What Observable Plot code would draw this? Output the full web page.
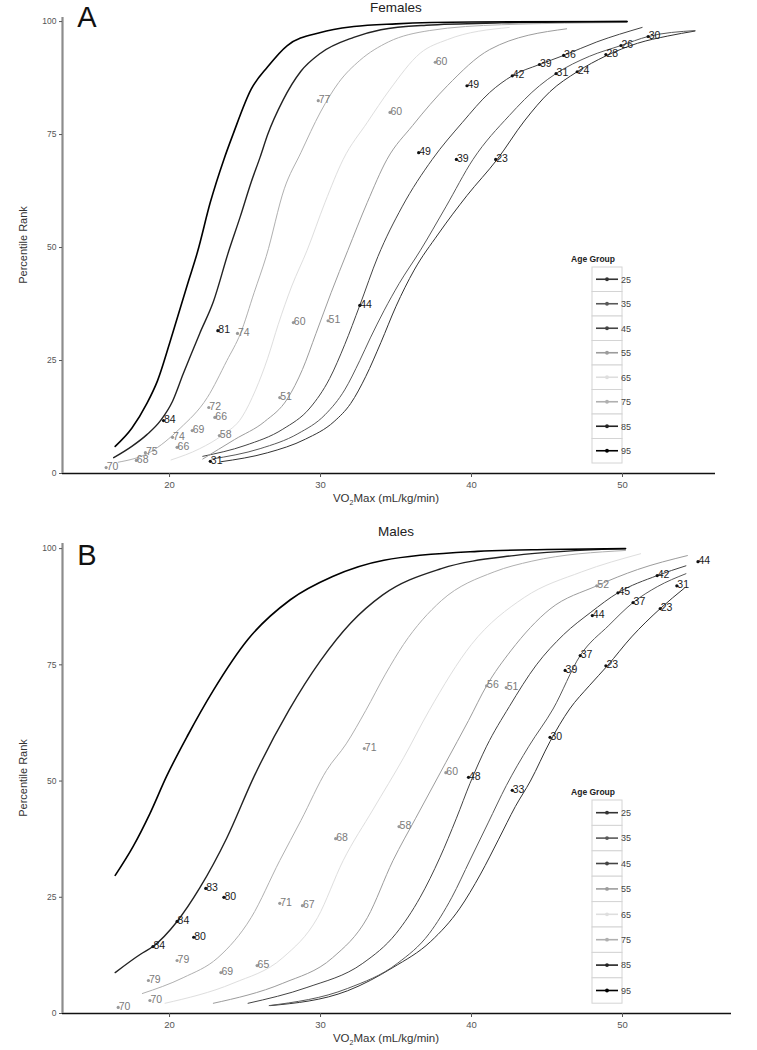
<!DOCTYPE html>
<html><head><meta charset="utf-8">
<script src="https://cdn.jsdelivr.net/npm/d3@7"></script>
<script src="https://cdn.jsdelivr.net/npm/@observablehq/plot@0.6"></script>
<style>
body{margin:0;background:#fff;font-family:"Liberation Sans",Arial,sans-serif;}
#wrap{width:757px;}
</style></head><body><div id="wrap"><div id="A"></div><div id="B"></div></div>
<script>
const ageGroups = [25,35,45,55,65,75,85,95];
const groupColors = ["#333333","#595959","#444444","#9c9c9c","#dedede","#b0b0b0","#222222","#000000"];
const groupWidths = [1,1,1,1,1,1,1.4,1.6];
const xTicks = [20,30,40,50];
const yTicks = [0,25,50,75,100];

// Females: [VO2max, percentile rank]
const f25 = [[23.4,2.6],[26.5,4.6],[29,7.6],[30.9,11.5],[32,15.5],[33,21.5],[34,29],[35,37],[36.2,45],[37.8,53],[39.7,61.5],[41.7,69.5],[43.5,78],[45.2,84.5],[47,88.9],[48.9,92.4],[51,95.2],[53,96.8],[54.8,97.9]];
const f35 = [[22.8,3.2],[26,5.5],[28.5,8.8],[30.3,13],[31.6,18.5],[32.6,25],[33.3,30],[34.2,36],[35.2,42],[36.6,49.3],[38.3,59],[40.1,69.5],[42.5,79.2],[44.5,85.8],[45.6,88.5],[47.8,92.3],[49.9,94.7],[51.7,96.7],[54.8,98]];
const f45 = [[22.2,3.8],[25,6.2],[27.5,9.8],[29.3,14.5],[30.6,21],[31.6,28.5],[32.6,37.2],[33.8,48],[35.4,59],[37.4,69.5],[39.4,77.7],[41.2,84.3],[42.7,88],[44.5,90.5],[46.1,92.5],[48.3,95.5],[51.3,98.7]];
const f55 = [[22.2,3.2],[24.3,7.5],[26.3,11.5],[27.8,16.5],[28.8,23],[29.7,31],[30.7,40],[31.8,49.3],[33.1,60],[34.4,69.5],[36.1,77],[38.4,85.8],[41.2,93.8],[46.3,98.4]];
const f65 = [[20.1,3],[22,5.5],[23.5,8.5],[24.8,12.5],[25.7,18.5],[26.5,25.5],[27.2,33],[28.1,41.5],[29.1,49.3],[30.3,60],[31.5,69.5],[33.1,77.7],[34.6,85],[36.6,93],[38.4,96],[42.5,98.7]];
const f75 = [[16.6,2.5],[18.7,4.7],[20.7,10],[22.5,16.8],[23.8,25],[24.7,31],[25.6,40],[26.4,48],[27.6,63],[28.7,71],[30,80],[31.2,86.5],[32.6,91.4],[34.5,95.5],[37.2,98],[42,99.3],[50.3,99.8]];
const f85 = [[16.3,3.5],[17.5,6],[18.5,8.6],[19.4,11.7],[20.2,16],[20.9,22],[22,31],[22.9,38],[23.9,49],[24.7,57],[25.4,64.4],[26,70],[26.5,75],[27.5,82.5],[28.7,89],[30,93],[32.2,96.5],[34,98.2],[37,99.2],[42,99.7],[50.3,100]];
const f95 = [[16.4,6],[17.5,10],[18.5,15.5],[19.2,20.5],[20.2,31],[21.2,42],[21.85,49],[22.7,60],[23.6,69.5],[24.2,75],[25.4,85],[26.5,90],[27.8,94.7],[30,97.6],[32.2,98.9],[35,99.5],[40,99.9],[50.3,100]];

// Males
const m25 = [[26.7,1.7],[31.8,4.9],[34.8,9.9],[37.3,15.5],[39.2,22.5],[40.6,30],[41.8,37.5],[42.9,44.5],[43.9,50],[45.2,58.5],[46.5,65.5],[47.8,70.5],[49,74.8],[50.6,81],[52.5,87.1],[54.1,91.5]];
const m35 = [[26.6,1.7],[31.8,5.4],[35.1,10.8],[37.2,17.2],[38.7,25],[39.9,33],[41.1,41],[42.3,49],[43.8,57.5],[45.4,65.5],[47.2,77],[49.1,83.5],[50.7,88.4],[52.3,91.8],[54.2,94.6]];
const m45 = [[25.2,2.2],[29.1,5.6],[32.8,10.8],[35,17.2],[36.6,25],[37.9,33.5],[39,42],[39.9,49.5],[41,57.5],[42.5,66],[44.3,75],[46.1,81.5],[47.9,86.3],[49.7,90.5],[52.3,94.2],[54.2,96.3]];
const m55 = [[22.9,2.2],[27.5,6.5],[30.8,12],[33.1,20.6],[34.8,32.9],[36.3,42],[38.3,54],[39.8,63],[41,70.5],[42.6,78],[45.2,87],[48.3,92],[51,95.5],[54.3,98.5]];
const m65 = [[19.7,2.2],[24.2,6.5],[27.5,12],[29.8,20.6],[31.5,32.9],[33.5,44],[35.5,55],[37.2,65.2],[40,79.4],[43.5,89.5],[47.3,95],[51.2,98.9]];
const m75 = [[18.2,4.3],[20.9,7.7],[23.2,12],[25.4,20.6],[27.3,32.9],[28.7,41.5],[30.4,52.3],[31.7,58],[33,65.2],[34.3,73],[35.5,79.4],[38,88.8],[41.5,95],[44,97.3],[50.2,99.6]];
const m85 = [[16.4,8.8],[18.1,12.8],[18.9,14.4],[20.5,19.8],[22,27],[23.8,37.8],[25.6,51],[27.9,65.2],[30,75.9],[32,84],[34.1,90],[38,95.7],[42.8,98.5],[50.2,100]];
const m95 = [[16.4,29.7],[17.6,36],[18.7,43],[19.8,51],[21.2,59.8],[22.9,69.5],[25.2,80.5],[28,89],[30.8,94],[34.2,97.5],[40.4,99.4],[45,99.8],[50.2,100]];

// Individual subjects: [VO2max, percentile, age]
const femaleSubjects = [[29.85,82.5,77],[37.6,91,60],[34.6,79.9,60],[39.7,85.8,49],[42.7,88,42],[44.5,90.5,39],[46.1,92.5,36],[45.6,88.5,31],[47,88.9,24],[48.9,92.7,28],[49.9,94.7,26],[51.7,96.7,30],[36.5,71,49],[39,69.5,39],[41.6,69.5,23],[23.2,31.6,81],[24.5,31,74],[28.2,33.4,60],[30.5,33.8,51],[32.6,37.2,44],[22.6,14.6,72],[23,12.4,66],[19.6,11.7,84],[21.5,9.5,69],[20.2,8,74],[23.3,8.4,58],[20.5,5.8,66],[18.4,4.6,75],[17.8,2.9,68],[15.8,1.3,70],[22.7,2.7,31],[27.3,16.8,51]];
const maleSubjects = [[22.4,26.9,83],[23.6,25,80],[20.5,19.8,84],[21.6,16.4,80],[18.9,14.4,84],[20.5,11.4,79],[18.6,7.1,79],[18.7,2.8,70],[16.6,1.3,70],[23.4,8.8,69],[25.8,10.3,65],[27.3,23.7,71],[28.8,23.2,67],[31,37.6,68],[32.9,57,71],[38.3,51.8,60],[35.2,40.2,58],[39.8,50.8,48],[42.7,48,33],[45.2,59.4,30],[41,70.5,56],[42.3,70.1,51],[46.2,73.8,39],[47.2,77,37],[48.9,74.8,23],[48,85.6,44],[48.3,92,52],[49.7,90.5,45],[50.7,88.4,37],[52.5,87.1,23],[52.3,94.2,42],[53.6,92,31],[55,97.2,44]];

const groupOf = age => Math.floor(age / 10) * 10 + 5;

function panel(el, curves, subjects, opt) {
  const marks = [];
  curves.forEach((pts, i) => {
    const data = pts.map(([x, y]) => ({x, y}));
    marks.push(Plot.line(data, {x: "x", y: "y", stroke: groupColors[i], strokeWidth: groupWidths[i], curve: "monotone-x"}));
  });
  const subj = subjects.map(([x, y, age]) => ({x, y, age, g: groupOf(age)}));
  ageGroups.forEach((g, i) => {
    const rows = subj.filter(d => d.g === g);
    if (!rows.length) return;
    const light = g >= 55 && g <= 75;
    marks.push(Plot.dot(rows, {x: "x", y: "y", r: 1.6, fill: light ? "#999" : "#111", stroke: "none"}));
    marks.push(Plot.text(rows, {x: "x", y: "y", text: d => String(d.age), fill: light ? "#7a7a7a" : "#1a1a1a", textAnchor: "start", dx: 0.5, dy: -1, fontSize: 10.5}));
  });
  marks.push(Plot.ruleY([0], {stroke: "#111", strokeWidth: 1.6}));
  marks.push(Plot.ruleX([opt.xDomain[0]], {y1: 0, y2: opt.yDomain[1], stroke: "#8c8c8c", strokeWidth: 2.2}));
  marks.push(Plot.axisX({ticks: xTicks, tickSize: 4, tickPadding: 4, fontSize: 9.5, color: "#555", label: null}));
  marks.push(Plot.axisY({ticks: yTicks, tickSize: 3, tickPadding: 3, fontSize: 8.5, color: "#555", label: null}));
  const svg = Plot.plot({
    width: 757, height: opt.height,
    marginLeft: 62, marginRight: opt.mr, marginTop: opt.mt, marginBottom: opt.mb,
    x: {domain: opt.xDomain}, y: {domain: opt.yDomain},
    style: {fontFamily: "'Liberation Sans', Arial, sans-serif", background: "#fff", overflow: "visible"},
    marks
  });
  const s = d3.select(svg);
  const h = opt.height;
  s.append("text").attr("x", 87).attr("y", opt.letterY).attr("font-size", 29).attr("fill", "#111").text(opt.letter);
  s.append("text").attr("x", 396).attr("y", opt.titleY).attr("text-anchor", "middle").attr("font-size", 13.5).attr("fill", "#222").text(opt.title);
  s.append("text").attr("transform", `translate(27,${(opt.mt + h - opt.mb) / 2}) rotate(-90)`).attr("text-anchor", "middle").attr("font-size", 11).attr("fill", "#333").text("Percentile Rank");
  const xt = s.append("text").attr("x", 386).attr("y", h - opt.mb + 28.5).attr("text-anchor", "middle").attr("font-size", 11.5).attr("fill", "#333");
  xt.append("tspan").text("VO");
  xt.append("tspan").attr("font-size", 7).attr("dy", 3).text("2");
  xt.append("tspan").attr("dy", -3).text("Max (mL/kg/min)");
  const lg = s.append("g").attr("transform", `translate(592,${opt.legTop})`);
  lg.append("text").attr("x", 1).attr("y", -5).attr("font-size", 8.5).attr("font-weight", "bold").attr("fill", "#222").text("Age Group");
  ageGroups.forEach((g, i) => {
    const cy = i * opt.legStep;
    lg.append("rect").attr("x", 0).attr("y", cy).attr("width", 30).attr("height", opt.legStep).attr("fill", "#fff").attr("stroke", "#d4d4d4").attr("stroke-width", 1);
    lg.append("line").attr("x1", 4).attr("x2", 26).attr("y1", cy + opt.legStep / 2).attr("y2", cy + opt.legStep / 2).attr("stroke", groupColors[i]).attr("stroke-width", 1.6);
    lg.append("circle").attr("cx", 15).attr("cy", cy + opt.legStep / 2).attr("r", 1.9).attr("fill", groupColors[i]);
    lg.append("text").attr("x", 34).attr("y", cy + opt.legStep / 2 + 3.3).attr("font-size", 9).attr("fill", "#444").text(String(g));
  });
  document.getElementById(el).appendChild(svg);
}

panel("A", [f25, f35, f45, f55, f65, f75, f85, f95], femaleSubjects, {
  height: 508, mt: 17, mb: 35, mr: 42, xDomain: [12.91, 56.16], yDomain: [0, 100.9],
  letter: "A", letterY: 27, title: "Females", titleY: 12, legTop: 267, legStep: 24.5
});
panel("B", [m25, m35, m45, m55, m65, m75, m85, m95], maleSubjects, {
  height: 542, mt: 35, mb: 37, mr: 26, xDomain: [12.91, 57.22], yDomain: [0, 101.1],
  letter: "B", letterY: 57, title: "Males", titleY: 28, legTop: 292, legStep: 25.4
});
</script></body></html>
